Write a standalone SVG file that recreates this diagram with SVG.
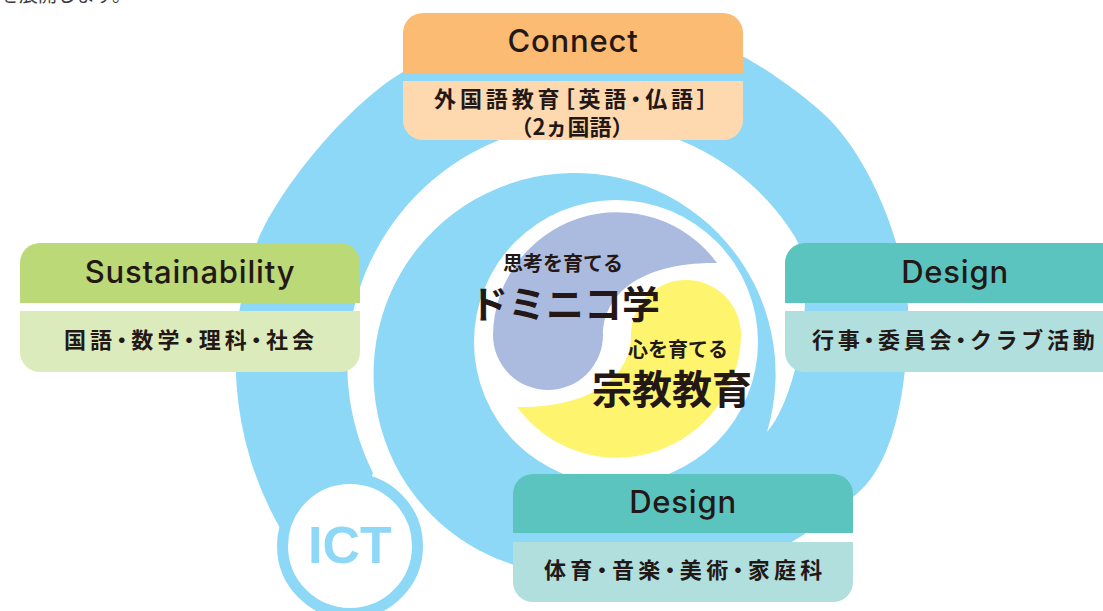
<svg xmlns="http://www.w3.org/2000/svg" width="1103" height="611" viewBox="0 0 1103 611">
<style>
.hdr{font-family:Inter,"Noto Sans",sans-serif;font-weight:500;font-size:31px;letter-spacing:0.8px;fill:#231815;text-anchor:middle}
.sub{font-family:"Noto Sans CJK JP",sans-serif;font-weight:700;font-size:22px;fill:#231815}
.p{font-feature-settings:"palt" 1}
.ctr{font-family:"Noto Sans CJK JP",sans-serif;font-weight:700;fill:#231815}
.blue{fill:#8ed8f7}
</style>
<rect width="1103" height="611" fill="#ffffff"/>
<text x="0" y="2" font-family="'Noto Sans CJK JP',sans-serif" font-size="19" fill="#3e3a39">を展開します。</text>
<g id="swirl">
<path class="blue" d="M280,528 A338,338 0 0 1 258,240 C281,185 351,102 403,72 C490,22 650,10 744,57 C770,71 809,99 830,120 C872,163 905,247 908,307 C908,367 901,461 853,497 C837,509 817,526 800,537 C740,575 640,574 574,574 A201,201 0 0 1 407,485 L385,482 L350,546 Z"/>
<path fill="#ffffff" d="M373,473 A242,242 0 0 1 795,237 C818,275 800,395 767,432 A201,201 0 1 0 407,485 L360,510 Z"/>
<circle cx="616" cy="342" r="142" fill="#ffffff"/>
<path id="purple" fill="#abbbe0" d="M717,263 A124,124 0 0 0 493,335 A55,55 0 0 0 603,335 C603,295 640,262 717,263 Z"/>
<path id="yellow" fill="#fff46e" d="M717,263 A124,124 0 0 0 493,335 A55,55 0 0 0 603,335 C603,295 640,262 717,263 Z" transform="rotate(180 617 335)"/>
</g>
<g id="center-text">
<text class="ctr" x="503" y="271" font-size="20">思考を育てる</text>
<text class="ctr" x="470" y="318" font-size="38">ドミニコ学</text>
<text class="ctr" x="628" y="357" font-size="20">心を育てる</text>
<text class="ctr" x="592" y="404" font-size="40">宗教教育</text>
</g>
<g id="ict">
<circle cx="350" cy="546" r="67.5" fill="#ffffff" stroke="#8ed8f7" stroke-width="11"/>
<text x="350" y="563" font-family="'Liberation Sans',Arial,sans-serif" font-weight="700" font-size="52" fill="#8ed8f7" text-anchor="middle">ICT</text>
</g>
<g id="connect">
<path fill="#fbbb73" d="M403,73 V33 A20,20 0 0 1 423,13 H723 A20,20 0 0 1 743,33 V73 Z"/>
<path fill="#fed9b0" d="M403,81 H743 V120 A20,20 0 0 1 723,140 H423 A20,20 0 0 1 403,120 Z"/>
<text class="hdr" x="573" y="52">Connect</text>
<text class="sub" x="434" y="107" font-size="24" letter-spacing="3.9">外国語教育<tspan class="p">［</tspan>英語<tspan class="p">・</tspan>仏語<tspan class="p">］</tspan></text>
<text class="sub" x="572" y="135" font-size="17" text-anchor="middle">（2ヵ国語）</text>
</g>
<g id="sustainability">
<path fill="#bbd976" d="M20,303 V263 A20,20 0 0 1 40,243 H340 A20,20 0 0 1 360,263 V303 Z"/>
<path fill="#dcebbc" d="M20,311 H360 V352 A20,20 0 0 1 340,372 H40 A20,20 0 0 1 20,352 Z"/>
<text class="hdr" x="190" y="283">Sustainability</text>
<text class="sub" x="64" y="348" letter-spacing="4.1">国語<tspan class="p">・</tspan>数学<tspan class="p">・</tspan>理科<tspan class="p">・</tspan>社会</text>
</g>
<g id="design-right">
<path fill="#5bc4be" d="M785,303 V263 A20,20 0 0 1 805,243 H1110 V303 Z"/>
<path fill="#b0dfdd" d="M785,311 H1110 V372 H805 A20,20 0 0 1 785,352 Z"/>
<text class="hdr" x="955" y="283">Design</text>
<text class="sub" x="812" y="348" letter-spacing="3.7">行事<tspan class="p">・</tspan>委員会<tspan class="p">・</tspan>クラブ活動</text>
</g>
<g id="design-bottom">
<path fill="#5bc4be" d="M513,533 V494 A20,20 0 0 1 533,474 H833 A20,20 0 0 1 853,494 V533 Z"/>
<path fill="#b0dfdd" d="M513,542 H853 V582 A20,20 0 0 1 833,602 H533 A20,20 0 0 1 513,582 Z"/>
<text class="hdr" x="683" y="513">Design</text>
<text class="sub" x="544" y="578" letter-spacing="4.3">体育<tspan class="p">・</tspan>音楽<tspan class="p">・</tspan>美術<tspan class="p">・</tspan>家庭科</text>
</g>
<g id="connectors"></g>
</svg>
